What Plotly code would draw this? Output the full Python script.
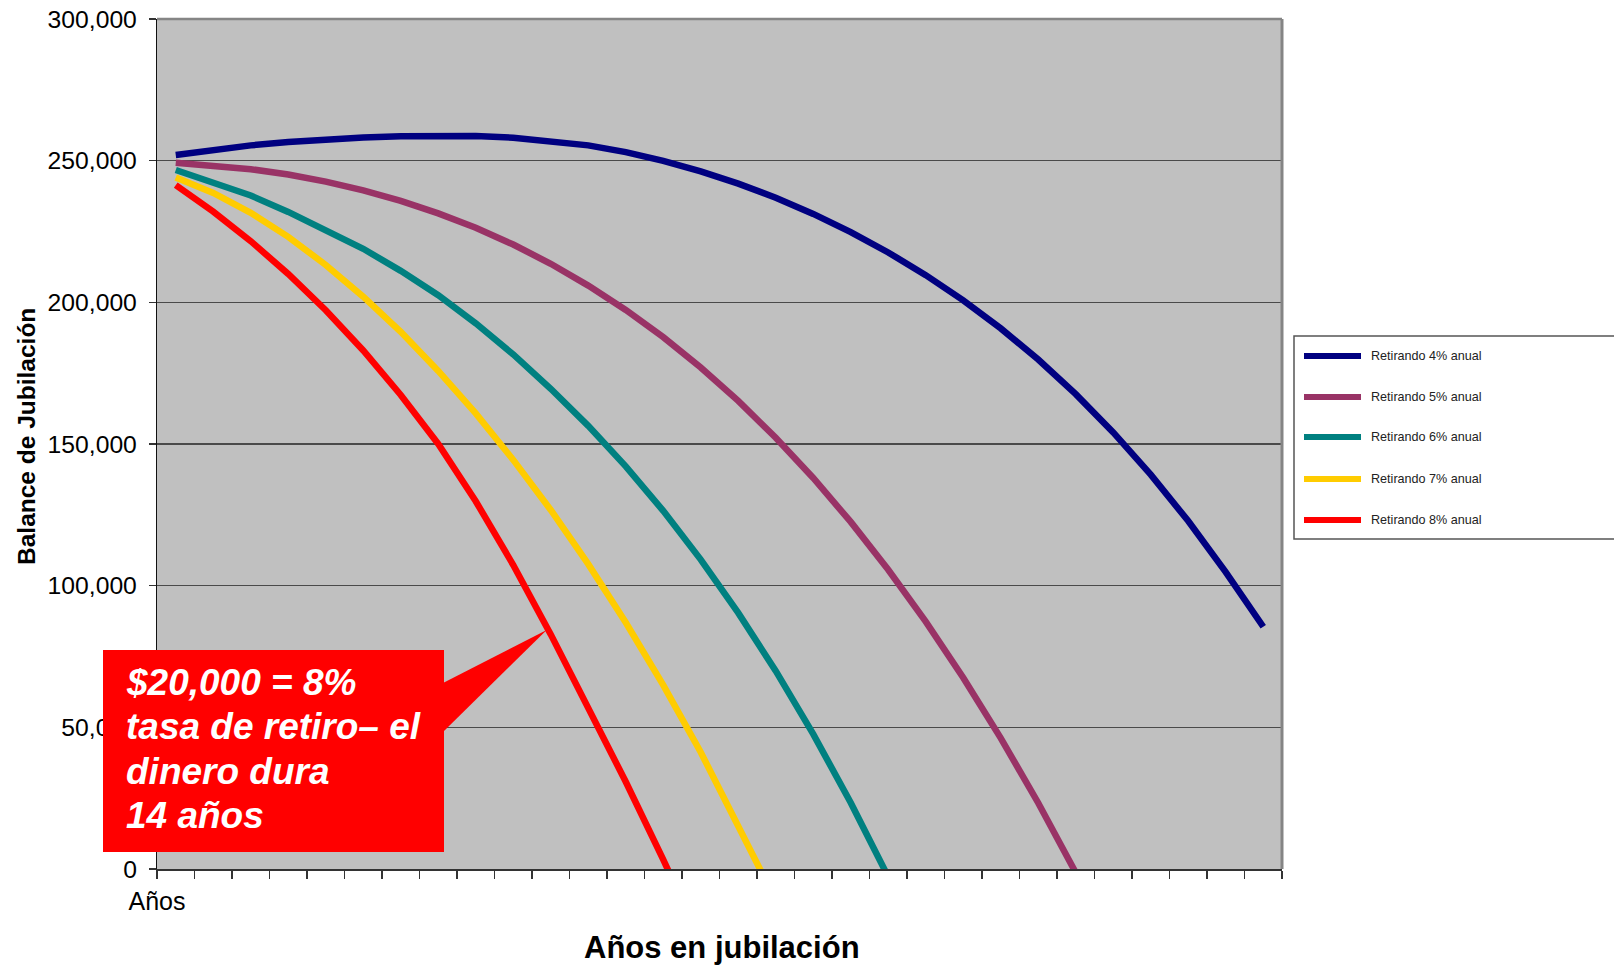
import plotly.graph_objects as go

# Year index within retirement (one category per year)
anos = list(range(30))
# Category boundaries carry the tick marks; only the first one is labelled
tick_texto = ["Años"] + [""] * 30

# Retirement balance for each withdrawal rate (values below zero fall off the axis)
retiro_4 = [252000, 253900, 255400, 256600, 257500, 258200, 258600, 258800, 258700, 258100,
            257000, 255400, 253000, 249900, 246200, 241900, 236900, 231200, 224800, 217600,
            209600, 200700, 190800, 179800, 167600, 154100, 139200, 122800, 104800, 85500]
retiro_5 = [249300, 248400, 247000, 245100, 242600, 239500, 235800, 231400, 226300, 220400,
            213600, 205900, 197300, 187700, 177000, 165200, 152200, 138000, 122500, 105600,
            87300, 67500, 46200, 23300, -1300]
retiro_6 = [246700, 242500, 237700, 231900, 225700, 218900, 211100, 202500, 192600, 181600,
            169500, 156400, 142100, 126400, 109200, 90400, 69900, 47600, 23400, -2800]
retiro_7 = [244100, 238600, 231600, 223100, 213200, 202000, 189600, 175800, 160800, 144400,
            126700, 107600, 87000, 64900, 41200, 15900, -11000]
retiro_8 = [241400, 232000, 221600, 210000, 197200, 183000, 167300, 150000, 129800, 107300,
            82800, 57300, 30800, 3300, -25200]

series = [
    ("Retirando 4% anual", retiro_4, "#000080"),
    ("Retirando 5% anual", retiro_5, "#993366"),
    ("Retirando 6% anual", retiro_6, "#008080"),
    ("Retirando 7% anual", retiro_7, "#FFCC00"),
    ("Retirando 8% anual", retiro_8, "#FF0000"),
]

# Callout text, one entry per line
nota_lineas = ["$20,000 = 8%", "tasa de retiro– el", "dinero dura", "14 años"]

W, H = 1614, 965
L, R, T, B = 157, 1282, 19, 869   # plot area in pixels


def px_x(p):
    return (p - L) / (R - L)


def px_y(p):
    return (B - p) / (B - T)


FONT = "Liberation Sans, Arial, sans-serif"

fig = go.Figure()
for nombre, valores, color in series:
    fig.add_trace(go.Scatter(
        x=anos[:len(valores)], y=valores, mode="lines", name=nombre,
        line=dict(color=color, width=6.5), hoverinfo="skip", showlegend=False,
    ))

shapes = []
annotations = []

# Grey frame on top and right of the plotting area
shapes.append(dict(type="line", xref="paper", yref="paper", x0=0, x1=1, y0=1, y1=1,
                   line=dict(color="#858585", width=2.5), layer="above"))
shapes.append(dict(type="line", xref="paper", yref="paper", x0=1, x1=1, y0=0, y1=1,
                   line=dict(color="#858585", width=3), layer="above"))

# Legend box with line samples
shapes.append(dict(type="rect", xref="paper", yref="paper",
                   x0=px_x(1294), x1=px_x(1650), y0=px_y(539), y1=px_y(336),
                   line=dict(color="#555555", width=1.5), fillcolor="white", layer="above"))
leg_y = [356, 397, 437, 479, 520]
for (nombre, _, color), yy in zip(series, leg_y):
    shapes.append(dict(type="line", xref="paper", yref="paper",
                       x0=px_x(1304), x1=px_x(1361), y0=px_y(yy), y1=px_y(yy),
                       line=dict(color=color, width=6), layer="above"))
    annotations.append(dict(xref="paper", yref="paper", x=px_x(1369), y=px_y(yy),
                            xanchor="left", yanchor="middle", showarrow=False,
                            text=nombre, font=dict(family=FONT, size=12.6, color="#222222")))

# Red callout box and its pointer
shapes.append(dict(type="rect", xref="paper", yref="paper",
                   x0=px_x(103), x1=px_x(444), y0=px_y(852), y1=px_y(650),
                   line=dict(width=0), fillcolor="#FF0000", layer="above"))
shapes.append(dict(type="path", xref="paper", yref="paper",
                   path="M {} {} L {} {} L {} {} Z".format(px_x(443), px_y(683), px_x(546.7), px_y(630),
                                                          px_x(443), px_y(732)),
                   line=dict(width=0), fillcolor="#FF0000", layer="above"))
for linea, yy in zip(nota_lineas, [682.5, 726.8, 771, 815.2]):
    annotations.append(dict(xref="paper", yref="paper", x=px_x(124), y=px_y(yy),
                            xanchor="left", yanchor="middle", align="left", showarrow=False,
                            text="<b><i>" + linea + "</i></b>",
                            font=dict(family=FONT, size=37, color="white")))

# Axis titles
annotations.append(dict(xref="paper", yref="paper", x=px_x(722), y=px_y(947),
                        xanchor="center", yanchor="middle", showarrow=False,
                        text="<b>Años en jubilación</b>",
                        font=dict(family=FONT, size=31, color="black")))
annotations.append(dict(xref="paper", yref="paper", x=px_x(26), y=px_y(437),
                        xanchor="center", yanchor="middle", showarrow=False, textangle=-90,
                        text="<b>Balance de Jubilación</b>",
                        font=dict(family=FONT, size=24.5, color="black")))

fig.update_layout(
    width=W, height=H, autosize=False,
    margin=dict(l=L, r=W - R, t=T, b=H - B, pad=0, autoexpand=False),
    paper_bgcolor="white", plot_bgcolor="#C0C0C0",
    font=dict(family=FONT, color="black"),
    showlegend=False,
    shapes=shapes, annotations=annotations,
    xaxis=dict(
        range=[-0.5, 29.5], tickmode="array",
        tickvals=[i - 0.5 for i in range(31)], ticktext=tick_texto,
        ticks="outside", ticklen=8, tickcolor="#333333", tickwidth=1.2,
        showgrid=False, zeroline=False, automargin=False,
        showline=True, linecolor="#333333", linewidth=2,
        tickfont=dict(family=FONT, size=25, color="black"),
        ticklabelstandoff=1, fixedrange=True,
    ),
    yaxis=dict(
        range=[0, 300000], tickmode="linear", tick0=0, dtick=50000,
        tickformat=",d", automargin=False,
        ticks="outside", ticklen=7, tickcolor="#333333", tickwidth=1.2,
        showgrid=True, gridcolor="#4a4a4a", gridwidth=1.5,
        zeroline=False,
        showline=True, linecolor="#111111", linewidth=1.2,
        tickfont=dict(family=FONT, size=24.7, color="black"),
        ticklabelstandoff=7, fixedrange=True,
    ),
)

fig.write_html("out.html", config=dict(displayModeBar=False, staticPlot=True))
